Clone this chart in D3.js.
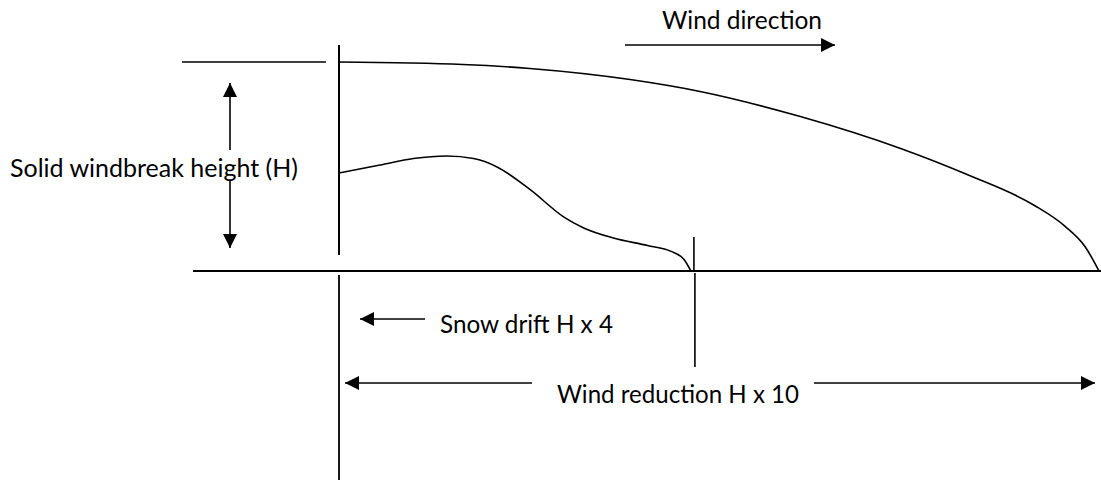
<!DOCTYPE html>
<html lang="en">
<head>
<meta charset="utf-8">
<title>Windbreak diagram</title>
<script src="https://d3js.org/d3.v7.min.js"></script>
<style>
  body { margin: 0; background: #fff; }
  text { font-family: Lato, "Open Sans", sans-serif; fill: #000; }
</style>
</head>
<body>
<script>
// distances in multiples of H (x) and fractions of H (y)
var windX = [0, 1.63, 2.51, 3.83, 4.75, 6.07, 7.39, 8.28, 9.14, 9.55, 9.82, 10];
var windY = [1.0, 0.988, 0.969, 0.916, 0.859, 0.739, 0.586, 0.459, 0.316, 0.215, 0.115, 0];

var driftX = [0, 0.54, 0.98, 1.42, 1.77, 2.08, 2.52, 2.96, 3.22, 3.61, 4.06, 4.37, 4.54, 4.63];
var driftY = [0.469, 0.507, 0.538, 0.550, 0.538, 0.498, 0.388, 0.258, 0.206, 0.158, 0.122, 0.094, 0.055, 0];

var driftEnd = 4.67;

var labels = ["Wind direction", "Solid windbreak height (H)", "Snow drift H x 4", "Wind reduction H x 10"];

var w = 1101, h = 481;

var x = d3.scaleLinear().domain([0, 10]).range([339, 1099]);
var y = d3.scaleLinear().domain([0, 1]).range([271, 62]);

var svg = d3.select("body").append("svg")
    .attr("width", w)
    .attr("height", h);

svg.append("defs").append("marker")
    .attr("id", "head")
    .attr("viewBox", "0 0 10 10")
    .attr("refX", 10)
    .attr("refY", 5)
    .attr("markerWidth", 15)
    .attr("markerHeight", 14)
    .attr("markerUnits", "userSpaceOnUse")
    .attr("orient", "auto")
  .append("path")
    .attr("d", "M0,0L10,5L0,10Z")
    .attr("fill", "#000");

function line(x1, y1, x2, y2, arrow, sw) {
  var l = svg.append("line")
      .attr("x1", x1).attr("y1", y1)
      .attr("x2", x2).attr("y2", y2)
      .attr("stroke", "#000")
      .attr("stroke-width", sw || 1.6);
  if (arrow) l.attr("marker-end", "url(#head)");
  return l;
}

// ground, top of windbreak, windbreak post
line(193, y(0), w, y(0), false, 2.2);
line(182, y(1), 326, y(1));
line(x(0), 45, x(0), 255, false, 2);
line(x(0), 275, x(0), 480, false, 1.8);

// end of drift marker
line(x(driftEnd), 237, x(driftEnd), y(0));
line(x(driftEnd) + 1, 273, x(driftEnd) + 1, 367);

// curves
var curve = d3.line()
    .x(function(d) { return x(d[0]); })
    .y(function(d) { return y(d[1]); })
    .curve(d3.curveMonotoneX);

svg.append("path")
    .attr("d", curve(d3.zip(windX, windY)))
    .attr("fill", "none")
    .attr("stroke", "#000")
    .attr("stroke-width", 1.6);

svg.append("path")
    .attr("d", curve(d3.zip(driftX, driftY)))
    .attr("fill", "none")
    .attr("stroke", "#000")
    .attr("stroke-width", 1.6);

// arrows
line(625, 45, 835, 45, true);          // wind direction
line(230, 150, 230, 83, true);         // height up
line(230, 180, 230, 248, true);        // height down
line(425, 319, 360, 319, true);        // snow drift
line(532, 383, 345, 383, true);        // reduction left
line(814, 383, 1095, 383, true);       // reduction right

// labels
var pos = [
  {x: 662, y: 29, len: 160},
  {x: 10, y: 177, len: 288},
  {x: 440, y: 333, len: 173},
  {x: 557, y: 403, len: 242}
];

svg.selectAll("text.lbl")
  .data(labels)
  .enter()
  .append("text")
    .attr("class", "lbl")
    .attr("x", function(d, i) { return pos[i].x; })
    .attr("y", function(d, i) { return pos[i].y; })
    .attr("font-size", "25px")
    .attr("textLength", function(d, i) { return pos[i].len; })
    .attr("lengthAdjust", "spacingAndGlyphs")
    .text(function(d) { return d; });
</script>
</body>
</html>
